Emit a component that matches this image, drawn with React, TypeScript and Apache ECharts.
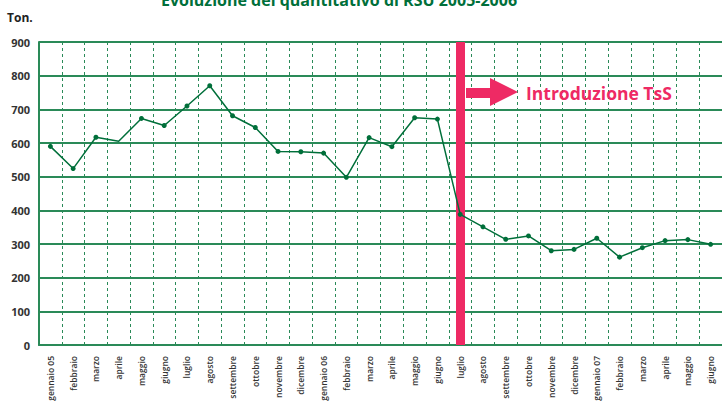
import React, { useEffect, useRef } from "react";
import * as echarts from "echarts";

const categories = [
  "gennaio 05", "febbraio", "marzo", "aprile", "maggio", "giugno", "luglio", "agosto",
  "settembre", "ottobre", "novembre", "dicembre", "gennaio 06", "febbraio", "marzo", "aprile",
  "maggio", "giugno", "luglio", "agosto", "settembre", "ottobre", "novembre", "dicembre",
  "gennaio 07", "febbraio", "marzo", "aprile", "maggio", "giugno",
];

const values = [
  590, 524, 617, 605, 673, 652, 710, 770, 681, 646, 575, 574, 570, 498, 616,
  589, 675, 671, 388, 351, 314, 324, 280, 284, 317, 261, 289, 310, 313, 299,
];

// months without a marker in the original
const noMarker = [3];

const yTicks = { min: 0, max: 900, interval: 100 };
const introIndex = 18;
const introLabel = "Introduzione TsS";
const titleText = "Evoluzione del quantitativo di RSU 2005-2006";
const unitText = "Ton.";

const GREEN = "#006f3a";
const GRID_GREEN = "#2a8a58";
const PINK = "#ee2a64";

export default function App() {
  const ref = useRef<HTMLDivElement>(null);
  useEffect(() => {
    if (!ref.current) return;
    const chart = echarts.init(ref.current, undefined, { renderer: "svg" });
    chart.setOption({
      animation: false,
      backgroundColor: "#ffffff",
      grid: { left: 39, top: 42, bottom: 59, right: -3, containLabel: false },
      xAxis: {
        type: "category",
        data: categories,
        boundaryGap: true,
        axisLine: { show: true, lineStyle: { color: GRID_GREEN, width: 2 } },
        axisTick: { show: false },
        axisLabel: {
          rotate: 90,
          interval: 0,
          margin: 11,
          fontSize: 8.5,
          fontWeight: 600,
          color: "#333",
          fontFamily: "Open Sans",
        },
        splitLine: {
          show: true,
          interval: 0,
          lineStyle: { color: GRID_GREEN, width: 1, type: [3, 3] },
        },
      },
      yAxis: {
        type: "value",
        min: yTicks.min,
        max: yTicks.max,
        interval: yTicks.interval,
        axisLine: { show: true, lineStyle: { color: GRID_GREEN, width: 2 } },
        axisTick: { show: false },
        axisLabel: {
          margin: 9,
          fontSize: 11,
          fontWeight: "bold",
          color: "#333",
          fontFamily: "Open Sans",
        },
        splitLine: { show: true, lineStyle: { color: GRID_GREEN, width: 2 } },
      },
      series: [
        {
          type: "line",
          data: [],
          z: 1,
          silent: true,
          markLine: {
            z: 1,
            silent: true,
            symbol: ["none", "none"],
            label: { show: false },
            lineStyle: { color: PINK, width: 9, type: "solid" },
            data: [{ xAxis: introIndex }],
          },
        },
        {
          type: "line",
          z: 3,
          data: values.map((v, i) =>
            noMarker.includes(i) ? { value: v, symbol: "none" } : v
          ),
          symbol: "circle",
          symbolSize: 5,
          itemStyle: { color: GREEN },
          lineStyle: { color: GREEN, width: 1.5 },
        },
      ],
      graphic: [
        {
          type: "text",
          x: 339,
          y: 0,
          style: {
            text: titleText,
            fill: GREEN,
            font: "bold 16px 'Open Sans'",
            textAlign: "center",
            textVerticalAlign: "middle",
          },
        },
        {
          type: "text",
          x: 7,
          y: 17,
          style: {
            text: unitText,
            fill: "#222",
            font: "bold 12px 'Open Sans'",
            textAlign: "left",
            textVerticalAlign: "middle",
          },
        },
        {
          type: "polygon",
          z: 10,
          shape: {
            points: [
              [466, 88], [490, 88], [490, 78], [518, 92], [490, 106], [490, 98], [466, 98],
            ],
          },
          style: { fill: PINK },
        },
        {
          type: "text",
          z: 10,
          x: 526,
          y: 93,
          style: {
            text: introLabel,
            fill: PINK,
            font: "bold 17.5px 'Open Sans'",
            textAlign: "left",
            textVerticalAlign: "middle",
          },
        },
      ],
    });
    return () => chart.dispose();
  }, []);
  return (
    <div
      ref={ref}
      style={{ position: "fixed", left: 0, top: 0, width: 722, height: 404 }}
    />
  );
}
